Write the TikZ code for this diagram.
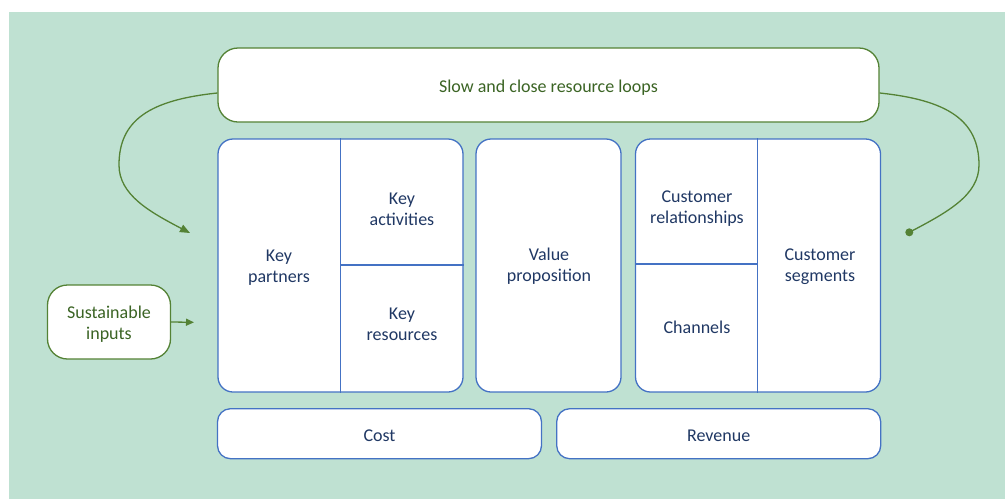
\documentclass[tikz,border=0pt]{standalone}
\usepackage{fontspec}
\setmainfont{Carlito}
\usetikzlibrary{arrows.meta,calc}
\definecolor{bg}{HTML}{BFE1D2}
\definecolor{bblue}{HTML}{4472C4}
\definecolor{bgreen}{HTML}{548235}
\definecolor{tblue}{HTML}{203864}
\definecolor{tgreen}{HTML}{3B6424}
\begin{document}
\begin{tikzpicture}[x=1pt,y=-1pt,font=\fontsize{18}{21}\selectfont,
  blk/.style={draw=bblue,line width=1.3pt,fill=white,rounded corners=15pt,inner sep=0pt},
  grn/.style={draw=bgreen,line width=1.3pt,fill=white,rounded corners=20pt,inner sep=0pt},
  div/.style={draw=bblue,line width=1.3pt},
  lbl/.style={text=tblue,align=center,inner sep=0pt},
  glbl/.style={text=tgreen,align=center,inner sep=0pt},
  conn/.style={draw=bgreen,line width=1.3pt}]
\path[use as bounding box] (0,0) rectangle (1005,499);
\fill[bg] (9,12) rectangle (1005,499);
% boxes
\node[grn,minimum width=661pt,minimum height=74pt] (loops) at (548.5,85) {};
\node[blk,minimum width=245pt,minimum height=253pt] (left) at (340.5,265.5) {};
\node[blk,minimum width=145pt,minimum height=253pt] (vp) at (548.5,265.5) {};
\node[blk,minimum width=245pt,minimum height=253pt] (right) at (758,265.5) {};
\node[blk,rounded corners=13pt,minimum width=324pt,minimum height=50pt] (cost) at (379.5,433.7) {};
\node[blk,rounded corners=13pt,minimum width=324pt,minimum height=50pt] (rev) at (718.7,433.7) {};
\node[grn,minimum width=123pt,minimum height=74pt] (sust) at (109,322) {};
% dividers
\draw[div] (left.north -| 340.5,0) -- (left.south -| 340.5,0);
\draw[div] (340.5,265) -- (left.east |- 0,265);
\draw[div] (right.north -| 757.5,0) -- (right.south -| 757.5,0);
\draw[div] (right.west |- 0,264) -- (757.5,264);
% labels
\node[glbl] (loopsl) at ($(loops.center)+(0,3)$) {Slow and close resource loops};
\node[glbl] (sustl) at ($(sust.center)+(0,2)$) {Sustainable\\inputs};
\node[lbl] (costl) at ($(cost.center)+(0,2.5)$) {Cost};
\node[lbl] (revl) at ($(rev.center)+(0,2.5)$) {Revenue};
\node[lbl] (kp) at (279,267.5) {Key\\partners};
\node[lbl] (ka) at (402,209.5) {Key\\activities};
\node[lbl] (kr) at (402,324.5) {Key\\resources};
\node[lbl] (vpl) at (549,266.5) {Value\\proposition};
\node[lbl] (cr) at (697,209) {Customer\\relationships};
\node[lbl] (ch) at (697,327) {Channels};
\node[lbl] (cs) at (820,266.5) {Customer\\segments};
% connectors
\coordinate (la) at (190,233);
\coordinate (ra) at (909.3,232.3);
\coordinate (sa) at (194,322.3);
\draw[conn,-{Triangle[length=10pt,width=8pt]}] ($(loops.west)+(0,8)$) .. controls (150,100) and (119,120) .. (119,165) .. controls (119,195) and (150,212) .. (la);
\draw[conn] ($(loops.east)+(0,8)$) .. controls (947,100) and (979,120) .. (979,165) .. controls (979,195) and (948,212) .. (ra);
\fill[bgreen] (ra) circle (4pt);
\draw[conn,-{Triangle[length=8pt,width=7pt]}] (sust.east) -- (sa);
\end{tikzpicture}
\end{document}
